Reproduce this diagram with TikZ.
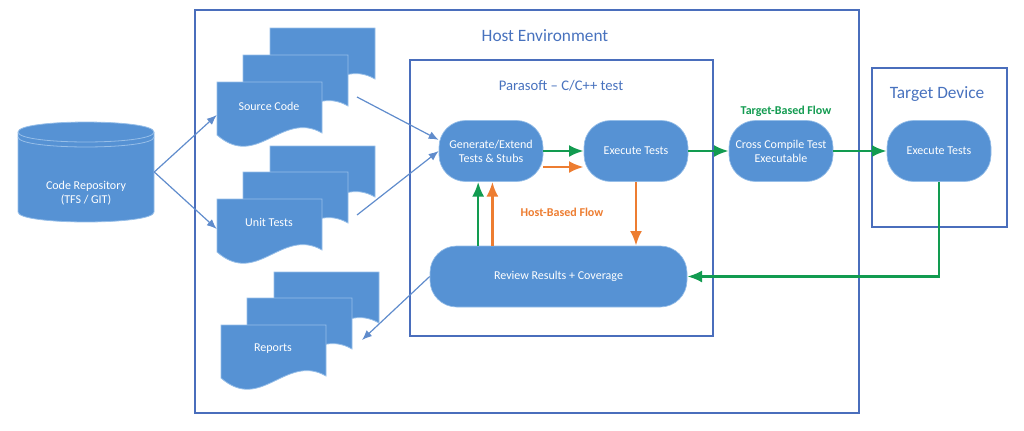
\documentclass[tikz,border=0pt]{standalone}
\usepackage{fontspec}
\setmainfont{Carlito}
\usetikzlibrary{arrows.meta,shapes}

\definecolor{fillblue}{RGB}{86,146,212}
\definecolor{edgeblue}{RGB}{150,190,232}
\definecolor{frameblue}{RGB}{74,110,188}
\definecolor{titleblue}{RGB}{72,114,190}
\definecolor{lineblue}{RGB}{96,140,204}
\definecolor{flowgreen}{RGB}{18,155,80}
\definecolor{floworange}{RGB}{237,125,49}

\tikzset{
	frame/.style={draw=frameblue, line width=1pt},
	title/.style={text=titleblue, font=\fontsize{13}{15}\selectfont},
	flowbox/.style={fill=fillblue, draw=edgeblue, line width=0.5pt, rounded corners=20pt,
		minimum width=78pt, minimum height=45.75pt, text=white, align=center,
		font=\fontsize{9}{10.5}\selectfont},
	doctext/.style={text=white, align=center, font=\fontsize{9}{11}\selectfont},
	flowlabel/.style={font=\bfseries\fontsize{9}{11}\selectfont},
	blueflow/.style={-{Latex[length=7.5pt,width=6pt]}, draw=lineblue, line width=0.9pt},
	greenflow/.style={-{Latex[length=11pt,width=9pt]}, draw=flowgreen, line width=1.9pt},
	orangeflow/.style={-{Latex[length=11pt,width=9pt]}, draw=floworange, line width=1.9pt},
	docpage/.pic={
		\filldraw [fill=fillblue, draw=edgeblue, line width=0.6pt] (0,0) -- (0,53)
			.. controls (40,88) and (65,28) .. (105,51) -- (105,0) -- cycle;
	}
}

\begin{document}
\begin{tikzpicture}[x=0.75pt, y=-0.75pt]
	\useasboundingbox (0,0) rectangle (1024,430);

	% Frames
	\draw [frame] (195,10) rectangle (859,413);
	\draw [frame] (410,60) rectangle (713,336);
	\draw [frame] (872,68) rectangle (1007,227);
	\node (host title) [title] at (545,36) {Host Environment};
	\node (tool title) [title, font=\fontsize{11}{13}\selectfont] at (561,86) {Parasoft – C/C++ test};
	\node (target title) [title] at (937,94) {Target Device};

	% Code repository
	\filldraw [fill=fillblue, draw=edgeblue, line width=0.6pt] (18,132) -- (18,212)
		.. controls (18,225.3) and (154,225.3) .. (154,212) -- (154,132)
		.. controls (154,118.7) and (18,118.7) .. (18,132) -- cycle;
	\draw [edgeblue, line width=0.6pt] (18,132) .. controls (18,145.3) and (154,145.3) .. (154,132);
	\draw [edgeblue, line width=0.6pt] (18,137) .. controls (18,150.3) and (154,150.3) .. (154,137);
	\node (repo) [minimum width=102pt, minimum height=75pt] at (86,172) {};
	\node (repo label) [doctext] at (86,193) {Code Repository\\(TFS / GIT)};

	% Source code stack
	\pic at (270,28) {docpage};
	\pic at (243,55) {docpage};
	\pic at (217,82) {docpage};
	\node (src) [doctext, minimum width=78pt] at (269,106) {Source Code};
	% Unit tests stack
	\pic at (270,146) {docpage};
	\pic at (243,172) {docpage};
	\pic at (217,199) {docpage};
	\node (unit) [doctext, minimum width=78pt] at (269,222) {Unit Tests};
	% Reports stack
	\pic at (274,272) {docpage};
	\pic at (247,298) {docpage};
	\pic at (221,325) {docpage};
	\node (rep) [doctext, minimum width=78pt] at (273,349) {Reports};

	% Steps
	\node (gen) [flowbox] at (491,151) {Generate/Extend\\Tests \& Stubs};
	\node (exec) [flowbox] at (636,151) {Execute Tests};
	\node (cross) [flowbox] at (781,151) {Cross Compile Test\\Executable};
	\node (texec) [flowbox] at (939,151) {Execute Tests};
	\node (review) [flowbox, minimum width=192.75pt] at (558.5,276.5) {Review Results + Coverage};

	% Flow labels
	\node (target flow) [flowlabel, text=flowgreen] at (786,111) {Target-Based Flow};
	\node (host flow) [flowlabel, text=floworange] at (562,212) {Host-Based Flow};

	% Files in and out
	\coordinate (src out) at (357,97);
	\coordinate (unit out) at (357,215);
	\coordinate (rep in) at (362,340);
	\draw [blueflow] (repo.east) -- ([yshift=-6.75pt]src.west);
	\draw [blueflow] (repo.east) -- ([yshift=-5.25pt]unit.west);
	\draw [blueflow] (src out) -- (gen.168);
	\draw [blueflow] (unit out) -- (gen.west);
	\draw [blueflow] (review.west) -- (rep in);

	% Target-based flow
	\draw [greenflow] (gen.east) -- (exec.west);
	\draw [greenflow] (exec.east) -- (cross.west);
	\draw [greenflow] (cross.east) -- (texec.west);
	\draw [greenflow] (texec.south) |- (review.east);
	\draw [greenflow] (review.159) -- (review.159 |- gen.south);
	% Host-based flow
	\draw [orangeflow] ([yshift=-12pt]gen.east) -- ([yshift=-12pt]exec.west);
	\draw [orangeflow] (exec.south) -- (exec.south |- review.north);
	\draw [orangeflow] (review.155) -- (review.155 |- gen.south);

\end{tikzpicture}
\end{document}
